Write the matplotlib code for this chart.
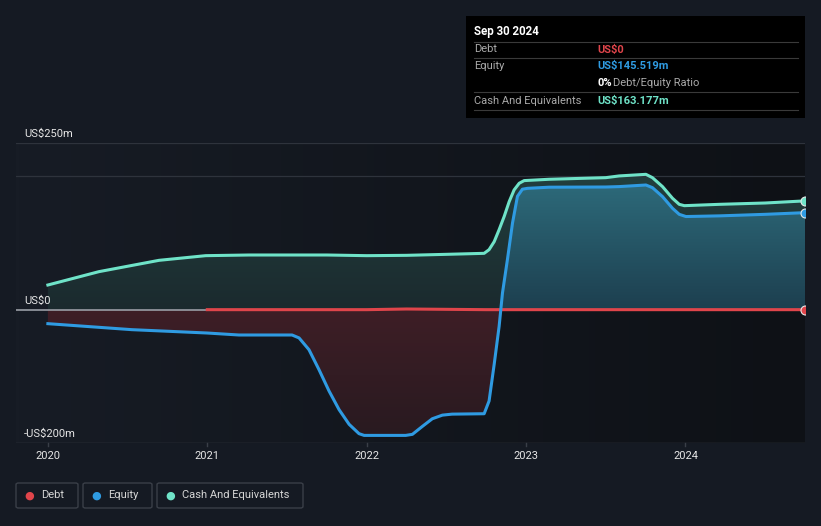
import numpy as np
import matplotlib
matplotlib.use('Agg')
import matplotlib.pyplot as plt
from matplotlib.patches import FancyBboxPatch, Rectangle
from matplotlib.colors import LinearSegmentedColormap

plt.rcParams['font.family'] = ['Roboto', 'DejaVu Sans']

# valores em milhoes de US$, eixo x em anos decimais
cash_x = [2020.0, 2020.32, 2020.697, 2020.99, 2021.262, 2021.5, 2021.75, 2022.0, 2022.25,
          2022.5, 2022.737, 2022.768, 2022.8, 2022.831, 2022.863, 2022.894, 2022.925,
          2022.957, 2022.988, 2023.145, 2023.5, 2023.584, 2023.752, 2023.793, 2023.856,
          2023.919, 2023.961, 2023.993, 2024.213, 2024.5, 2024.75]
cash_y = [37, 57, 74, 81, 82, 82, 82, 81, 81.5,
          83, 84.5, 90, 102, 120, 140, 162, 179.6,
          189.6, 193.6, 195.6, 198, 200.6, 203, 198, 184.6,
          167, 158, 156, 158, 160, 163.177]

equity_x = [2020.0, 2020.527, 2020.998, 2021.199, 2021.532, 2021.576, 2021.638, 2021.701,
            2021.764, 2021.827, 2021.89, 2021.952, 2021.984, 2022.245, 2022.287, 2022.35,
            2022.412, 2022.475, 2022.536, 2022.737, 2022.768, 2022.8, 2022.831, 2022.852,
            2022.883, 2022.915, 2022.946, 2022.977, 2023.009, 2023.145, 2023.5, 2023.584,
            2023.752, 2023.793, 2023.856, 2023.919, 2023.961, 2024.003, 2024.213, 2024.5,
            2024.75]
equity_y = [-21, -30, -35, -38, -38, -42.4, -60, -90,
            -122, -150, -172, -186, -188.6, -188.6, -187, -175,
            -163.6, -158.2, -156.7, -156.1, -137, -82, -25, 25,
            75, 130, 170, 180.7, 182, 183.7, 184, 184.6,
            187, 183, 169.6, 152, 143, 139.7, 140.7, 143,
            145.519]

debt_x = [2021.0, 2021.25, 2021.5, 2021.75, 2022.0, 2022.25, 2022.5, 2022.75, 2023.0,
          2023.25, 2023.5, 2023.75, 2024.0, 2024.25, 2024.5, 2024.75]
debt_y = [0, 0, 0, 0, 0, 1, 0.5, 0, 0, 0, 0, 0, 0, 0, 0, 0]

anos = [2020, 2021, 2022, 2023, 2024]
y_labels = {250: 'US$250m', 0: 'US$0', -200: '-US$200m'}

BG = '#151a23'
CASH = '#6fe3c8'
EQUITY = '#2f9be2'
DEBT = '#e0454b'

X0, X1 = 2019.8, 2024.75

W, H = 821, 526
fig = plt.figure(figsize=(W / 100, H / 100), dpi=100, facecolor=BG)
ax = fig.add_axes([16 / W, 1 - 443 / H, (805 - 16) / W, (443 - 143) / H])
ax.set_xlim(X0, X1)
ax.set_ylim(-200, 250)
ax.axis('off')

# fundo do grafico com leve degrade horizontal
bg_cmap = LinearSegmentedColormap.from_list('bg', ['#171c25', '#0e1116'])
ax.imshow(np.linspace(0, 1, 256).reshape(1, -1), cmap=bg_cmap, aspect='auto',
          extent=[X0, X1, -200, 250], zorder=0)


def preenche_degrade(x, y, cores, ymin, ymax, where=None, z=1):
    poly = ax.fill_between(x, 0, y, where=where, interpolate=True, color='none', zorder=z)
    cmap = LinearSegmentedColormap.from_list('g', cores)
    for p in poly.get_paths():
        img = ax.imshow(np.linspace(1, 0, 256).reshape(-1, 1), cmap=cmap, aspect='auto',
                        extent=[X0, X1, ymin, ymax], zorder=z)
        img.set_clip_path(p, transform=ax.transData)


cx, cy = np.array(cash_x), np.array(cash_y)
ex, ey = np.array(equity_x), np.array(equity_y)

preenche_degrade(cx, cy, ['#1b2a2e', '#22403f'], 0, 210, z=1)
preenche_degrade(ex, ey, ['#1d3f4f', '#2d6a7a'], 0, 190, where=ey >= 0, z=2)
preenche_degrade(ex, ey, ['#281a20', '#3e1e26'], -195, 0, where=ey <= 0, z=2)

# linhas de grade
for v in [250, 200]:
    ax.axhline(v, color='#2e333c', lw=0.9, zorder=3)
ax.axhline(-200, color='#3a3f48', lw=1, zorder=3)
ax.plot([X0, 2021.0], [0, 0], color='#9a9ea6', lw=1.2, zorder=4)

ax.plot(cx, cy, color=CASH, lw=2.2, zorder=6, solid_joinstyle='round')
ax.plot(ex, ey, color=EQUITY, lw=2.2, zorder=6, solid_joinstyle='round')
ax.plot(debt_x, debt_y, color=DEBT, lw=2.2, zorder=5)

for xs, ys, c in [(cash_x, cash_y, CASH), (equity_x, equity_y, EQUITY), (debt_x, debt_y, DEBT)]:
    ax.scatter([xs[-1]], [ys[-1]], s=42, color=c, edgecolor='#e8e8e8', linewidth=0.8,
               zorder=7, clip_on=True)

for v, t in y_labels.items():
    ax.text(2019.85, v + 6, t, color='#e6e6e6', fontsize=8, ha='left', va='bottom', zorder=8)

for a in anos:
    ax.plot([a, a], [-200, -204], color='#3a3f48', lw=1, clip_on=False)
    ax.text(a, -212, str(a), color='#e6e6e6', fontsize=8, ha='center', va='top')


def fx(px):
    return px / W


def fy(py):
    return 1 - py / H


# legenda
legenda = [('Debt', DEBT, 16, 78), ('Equity', EQUITY, 83, 152), ('Cash And Equivalents', CASH, 157, 303)]
for nome, cor, x0, x1 in legenda:
    fig.patches.append(FancyBboxPatch((fx(x0), fy(508)), fx(x1 - x0), 25 / H,
                                      boxstyle='round,pad=0,rounding_size=0.003',
                                      transform=fig.transFigure, facecolor='none',
                                      edgecolor='#3a3f48', lw=1))
    fig.text(fx(x0 + 13), fy(495.5), '\u25cf', color=cor, fontsize=8, ha='center', va='center')
    fig.text(fx(x0 + 25), fy(495.5), nome, color='#d6d6d6', fontsize=8, ha='left', va='center')

# caixa de detalhe
fig.patches.append(Rectangle((fx(466), fy(118)), fx(805 - 466), 102 / H,
                             transform=fig.transFigure, facecolor='#000000', edgecolor='none'))
fig.text(fx(474), fy(31), 'Sep 30 2024', color='white', fontsize=8.3, fontweight='bold', va='center')
for ly in [41.7, 58.3, 92.3, 110]:
    fig.lines.append(plt.Line2D([fx(474), fx(798)], [fy(ly), fy(ly)], transform=fig.transFigure,
                                color='#3a3a3a', lw=0.8))
linhas = [(49.5, 'Debt', 'US$0', DEBT), (66, 'Equity', 'US$145.519m', EQUITY),
          (100.5, 'Cash And Equivalents', 'US$163.177m', CASH)]
for ly, rot, val, cor in linhas:
    fig.text(fx(474), fy(ly), rot, color='#aaaaaa', fontsize=8, va='center')
    fig.text(fx(597), fy(ly), val, color=cor, fontsize=8, fontweight='bold', va='center')
fig.text(fx(597), fy(83), '0%', color='white', fontsize=8, fontweight='bold', va='center')
fig.text(fx(613), fy(83), 'Debt/Equity Ratio', color='#aaaaaa', fontsize=8, va='center')

fig.savefig('out.png', dpi=100, facecolor=BG)
